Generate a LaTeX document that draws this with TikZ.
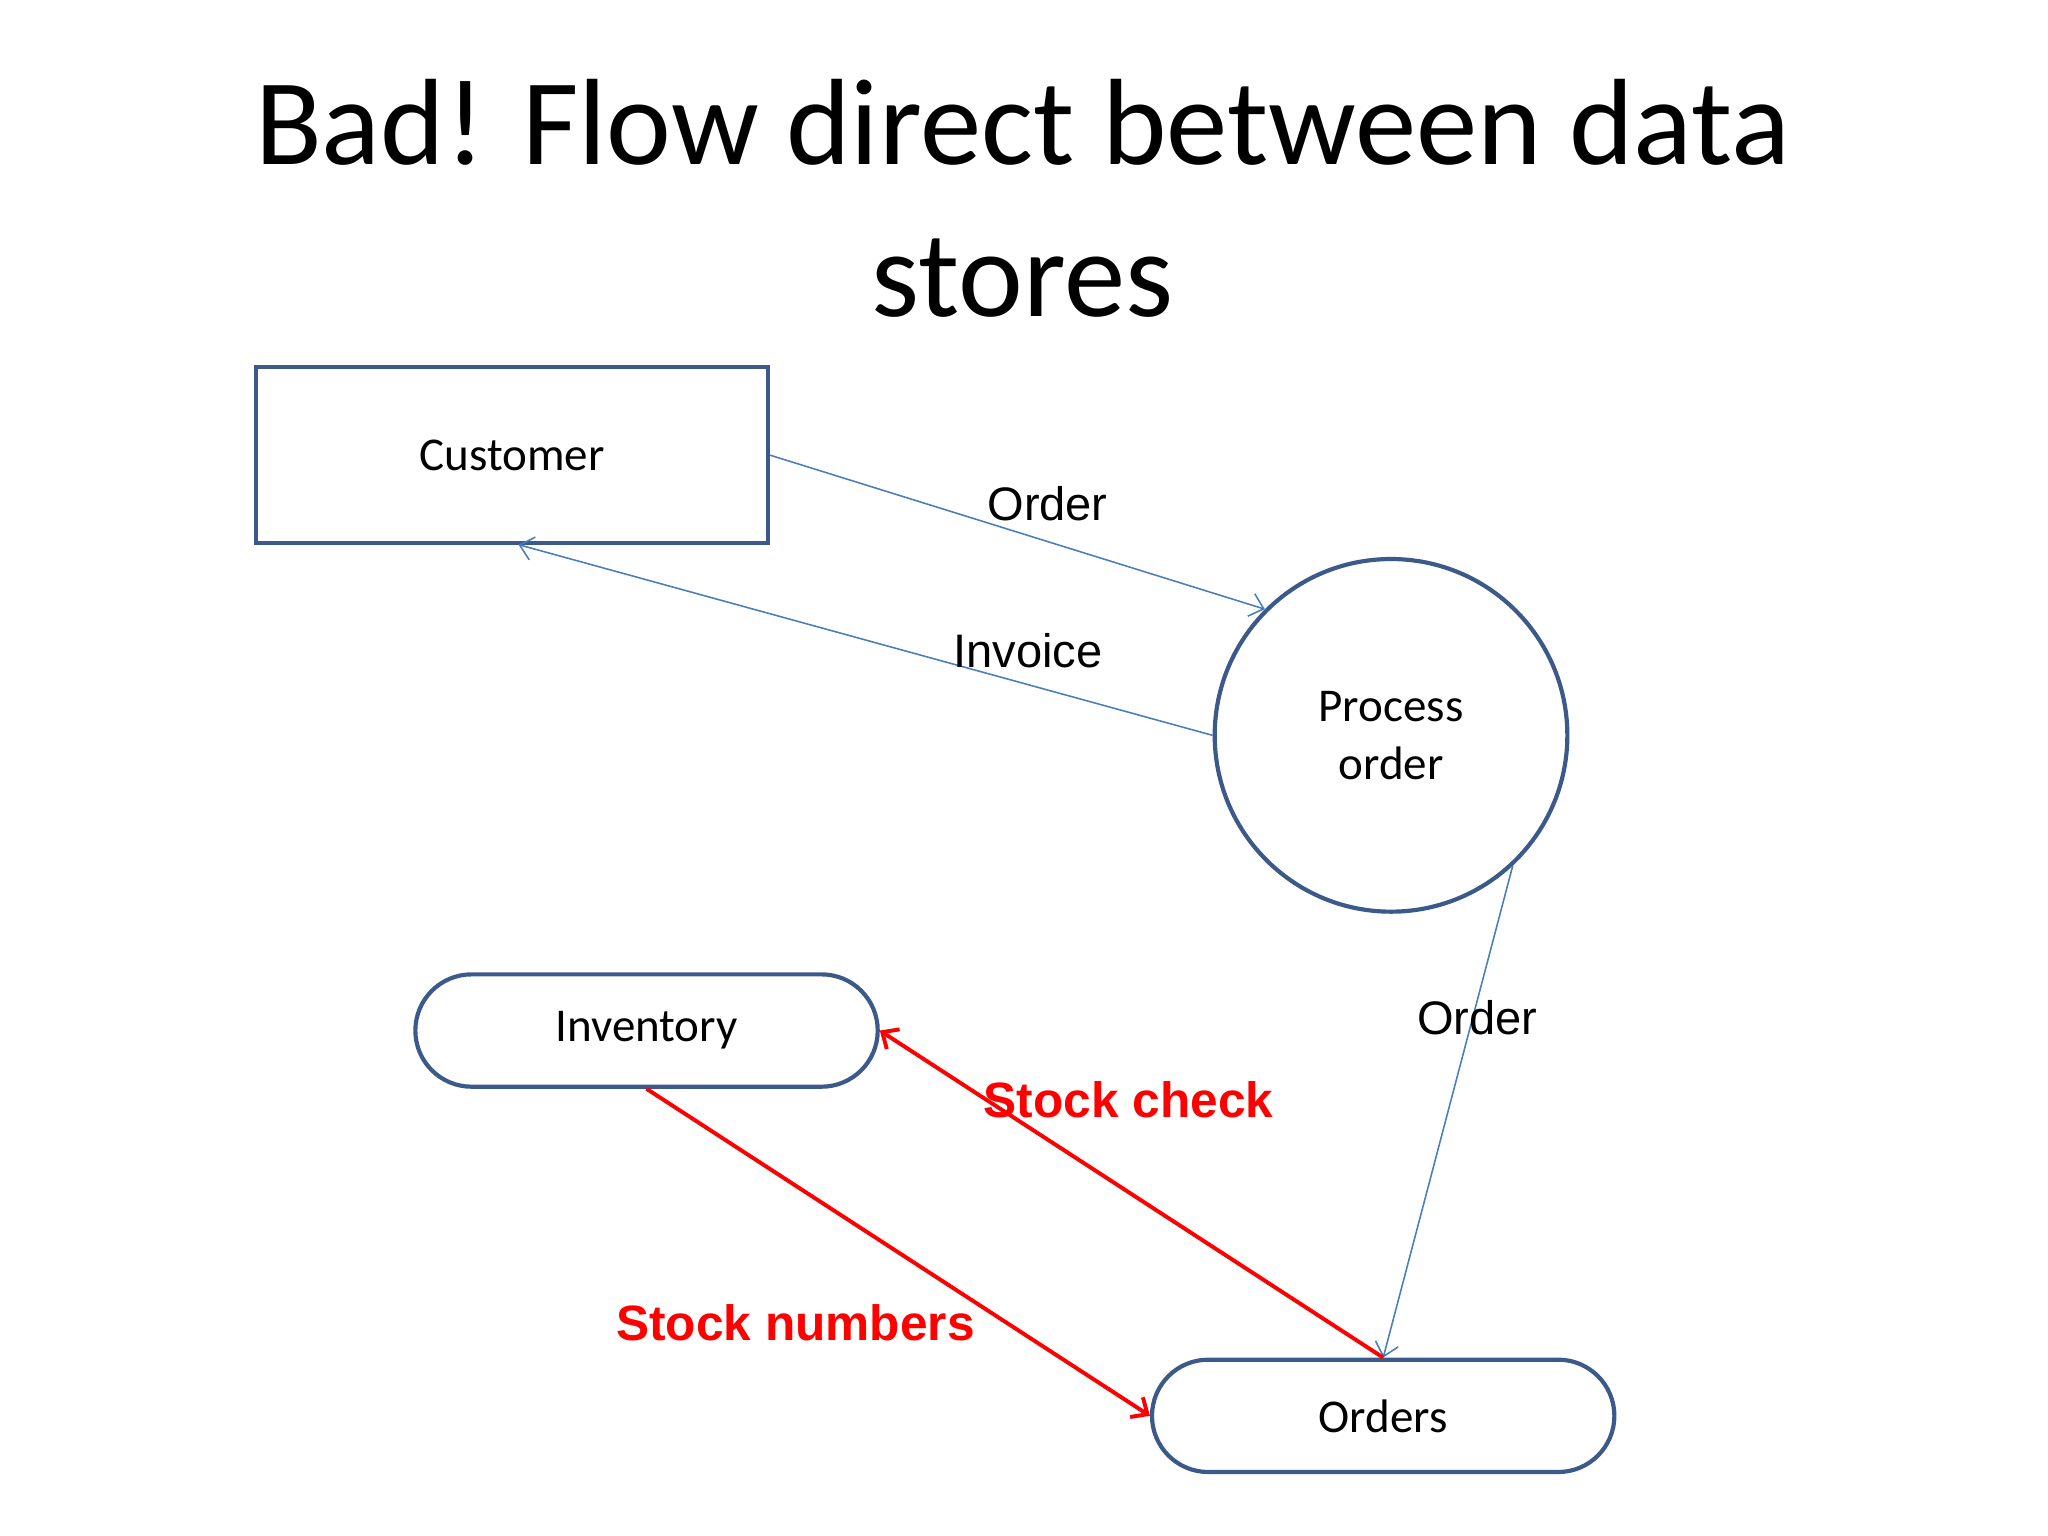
\documentclass[tikz,border=0pt]{standalone}
\usepackage{fontspec}
\setmainfont{Carlito}
\newfontfamily\arialfont{Liberation Sans}
\usetikzlibrary{shapes.misc,arrows.meta}
\definecolor{boxblue}{HTML}{3B5A8A}
\definecolor{lineblue}{HTML}{4A7EBB}
\begin{document}
\begin{tikzpicture}[x=0.5pt,y=-0.5pt,
    store/.style={draw=boxblue, line width=1.6pt, rounded rectangle, minimum width=177pt, minimum height=43pt, inner xsep=0pt, font=\fontsize{18}{20}\selectfont},
    flow/.style={draw=lineblue, line width=0.6pt, -{Straight Barb[length=5pt,width=9pt]}},
    badflow/.style={draw=red, line width=1.5pt, -{Straight Barb[length=5pt,width=9pt]}},
    lbl/.style={font=\arialfont\fontsize{18}{20}\selectfont},
    badlbl/.style={text=red, font=\arialfont\bfseries\fontsize{19}{21}\selectfont}]
  \useasboundingbox (0,0) rectangle (1568,1176);
  % title
  \node[font=\fontsize{47}{58}\selectfont, align=center] (title) at (783,152) {Bad! Flow direct between data\\stores};
  % entities
  \node[draw=boxblue, line width=1.6pt, minimum width=196pt, minimum height=67.5pt, font=\fontsize{18}{20}\selectfont] (cust) at (392,348.5) {Customer};
  \node[draw=boxblue, line width=1.6pt, circle, minimum size=135pt, align=center, font=\fontsize{18}{22}\selectfont] (proc) at (1065,563) {Process\\order};
  \node[store] (inv) at (495,789) {Inventory};
  \node[store] (ord) at (1059,1084) {Orders};
  \coordinate (custin) at (397,417);
  % flows
  \draw[flow] (cust.east) -- (proc.135);
  \draw[flow] (proc.west) -- (custin);
  \draw[flow] (proc.-47) -- (ord.north);
  \draw[badflow] (ord.north) -- (inv.east);
  \draw[badflow] (inv.south) -- (ord.west);
  % labels
  \node[lbl] (l1) at (802,386) {Order};
  \node[lbl] (l2) at (787,498) {Invoice};
  \node[lbl] (l3) at (1131,779) {Order};
  \node[badlbl] (l4) at (864,842) {Stock check};
  \node[badlbl] (l5) at (609,1013) {Stock numbers};
\end{tikzpicture}
\end{document}
